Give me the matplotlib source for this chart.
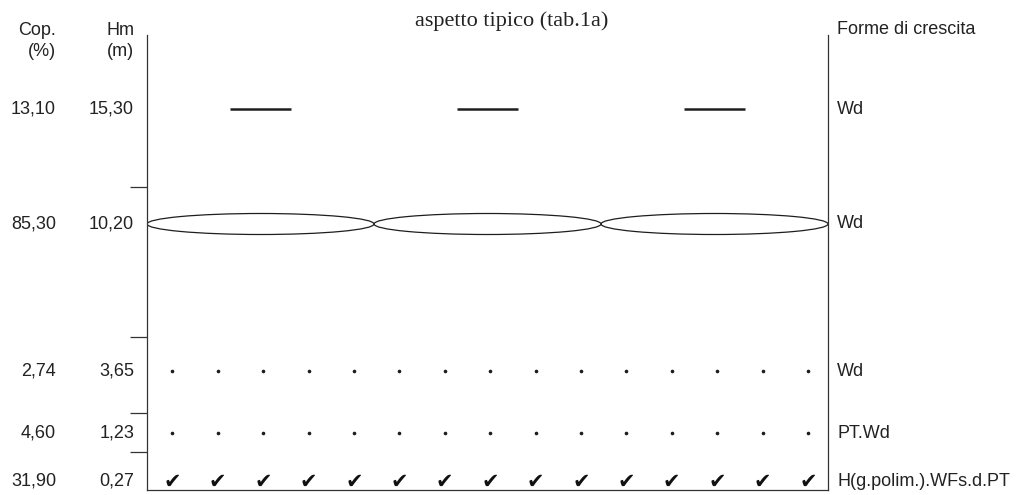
import numpy as np
import matplotlib.pyplot as plt
from matplotlib.patches import Ellipse
from matplotlib.transforms import blended_transform_factory

# vegetation layers, top to bottom
cop = [13.10, 85.30, 2.74, 4.60, 31.90]          # cover (%)
hm = [15.30, 10.20, 3.65, 1.23, 0.27]            # mean height (m)
forme = ["Wd", "Wd", "Wd", "PT.Wd", "H(g.polim.).WFs.d.PT"]
simboli = ["line", "ellipse", "dot", "dot", "check"]

# layout: row centres and layer separators (pixels from top)
row_y = [109, 224, 371, 433, 481]
sep_y = [187, 337, 413, 452]
ncol = 15


def fmt(v):
    return f"{v:.2f}".replace(".", ",")


W, H = 1021, 495
fig = plt.figure(figsize=(W / 100, H / 100), dpi=100)
ax = fig.add_axes([147 / W, 5 / H, (828 - 147) / W, (490 - 35) / H])
ax.set_xlim(0, ncol)
ax.set_ylim(490, 35)

ax.spines["top"].set_visible(False)
for s in ["left", "right", "bottom"]:
    ax.spines[s].set_linewidth(0.9)
    ax.spines[s].set_color("#333333")
ax.set_xticks([])
ax.set_yticks(sep_y)
ax.set_yticklabels([])
ax.tick_params(axis="y", length=12, width=0.9, color="#333333", direction="out")

ink = "#1e1e1e"
for y, sym in zip(row_y, simboli):
    if sym == "line":
        for c in [2.5, 7.5, 12.5]:
            ax.plot([c - 0.67, c + 0.67], [y, y], color=ink, lw=1.8,
                    solid_capstyle="butt")
    elif sym == "ellipse":
        for c in [2.5, 7.5, 12.5]:
            ax.add_patch(Ellipse((c, y), 5, 21, fill=False, ec=ink, lw=0.9))
    elif sym == "dot":
        xs = np.arange(ncol) + 0.56
        ax.plot(xs, [y] * ncol, ls="none", marker="o", ms=1.6, color=ink)
    elif sym == "check":
        for i in range(ncol):
            ax.text(i + 0.56, y + 1, "\u2714", ha="center", va="center",
                    fontsize=15, fontweight="bold", style="italic",
                    color="#111111", family="DejaVu Sans")

sans = "Liberation Sans"
txt = "#222222"
tr = blended_transform_factory(fig.transFigure, ax.transData)
for y, c, h, f in zip(row_y, cop, hm, forme):
    fig.text(56 / W, y, fmt(c), transform=tr, ha="right", va="center",
             fontsize=13, family=sans, color=txt)
    fig.text(134 / W, y, fmt(h), transform=tr, ha="right", va="center",
             fontsize=13, family=sans, color=txt)
    fig.text(837 / W, y, f, transform=tr, ha="left", va="center",
             fontsize=13, family=sans, color=txt)

fig.text(56 / W, 1 - 41 / H, "Cop.\n(%)", ha="right", va="center",
         fontsize=13, family=sans, color=txt, linespacing=1.25)
fig.text(134 / W, 1 - 41 / H, "Hm\n(m)", ha="right", va="center",
         fontsize=13, family=sans, color=txt, linespacing=1.25)
fig.text(837 / W, 1 - 29 / H, "Forme di crescita", ha="left", va="center",
         fontsize=13, family=sans, color=txt)
fig.text(512 / W, 1 - 21 / H, "aspetto tipico (tab.1a)", ha="center",
         va="center", fontsize=16, family="Liberation Serif", color=txt)

fig.savefig("out.png", dpi=100)
